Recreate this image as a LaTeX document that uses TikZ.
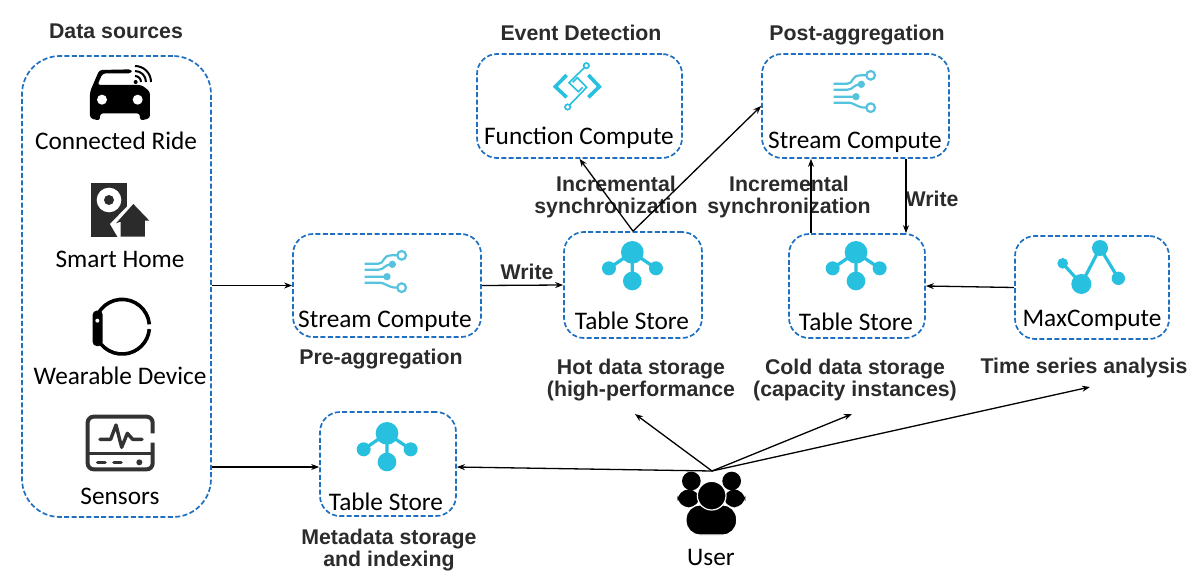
\documentclass[tikz,border=0pt]{standalone}
\usepackage{fontspec}
\setmainfont{Carlito}
\newfontfamily\arialfont{Liberation Sans}
\usetikzlibrary{arrows.meta,calc}
\definecolor{boxblue}{HTML}{1F70C1}
\definecolor{iconcyan}{HTML}{27C0DF}
\definecolor{streamcyan}{HTML}{55C3DE}
\definecolor{headtext}{HTML}{2B2B2B}
\tikzset{
  dbox/.style={draw=boxblue,line width=1.7pt,dash pattern=on 5pt off 2.4pt,rounded corners=20pt,fill=none,inner sep=0pt},
  svc/.style={font=\fontsize{25.3}{27}\selectfont,text=black,inner sep=0pt,text height=16.5pt,text depth=0pt},
  headtwo/.style={font=\arialfont\bfseries\fontsize{21.3}{22}\selectfont,text=headtext,inner sep=0pt,align=center},
  head/.style={headtwo,text height=15pt,text depth=0pt},
  conn/.style={line width=1.3pt,draw=black,-{Stealth[length=8pt,width=6pt]}},
  pics/tablestore/.style={code={
    \begin{scope}[scale=1/3]
      \draw[iconcyan,line width=3.3pt] (0,-38)--(-70,10) (0,-38)--(71,10) (0,-38)--(0,48);
      \fill[iconcyan] (0,-38) circle (34) (-70,10) circle (21) (71,10) circle (21) (0,48) circle (28);
    \end{scope}}},
  pics/streamicon/.style={code={
    \begin{scope}[scale=1/3]
      \draw[streamcyan,line width=2.2pt]
        (-61,-22)--(-20,-22) .. controls (0,-22) and (-10,-47) .. (20,-47)--(37,-47)
        (-61,-4)--(-20,-4) .. controls (0,-4) and (-5,-20) .. (22,-20)
        (-61,17)--(6,17)
        (-61,35)--(-20,35) .. controls (5,35) and (5,50) .. (37,50);
      \fill[streamcyan] (22,-20) circle (11) (6,17) circle (11);
      \draw[streamcyan,line width=2.2pt] (50,-47) circle (13) (50,50) circle (13);
    \end{scope}}},
}
\begin{document}
\begin{tikzpicture}[x=1pt,y=-1pt]
\useasboundingbox (0,0) rectangle (1200,586);
% boxes
\node[dbox,rounded corners=38pt,minimum width=189pt,minimum height=461pt] (src) at (116.5,286.5) {};
\node[dbox,minimum width=188pt,minimum height=103pt] (sc1) at (387,285.5) {};
\node[dbox,minimum width=138pt,minimum height=106pt] (hot) at (633,285) {};
\node[dbox,minimum width=136pt,minimum height=104pt] (cold) at (857,286) {};
\node[dbox,minimum width=154pt,minimum height=103pt] (maxc) at (1092,287.5) {};
\node[dbox,minimum width=205pt,minimum height=104pt] (fc) at (579.5,106) {};
\node[dbox,minimum width=187pt,minimum height=104pt] (post) at (855.5,106) {};
\node[dbox,minimum width=136pt,minimum height=104pt] (meta) at (388,464) {};
% texts
\node[head] (tsrc) at (116,31.5) {Data sources};
\node[svc] (t1) at (116,141.5) {Connected Ride};
\node[svc] (t2) at (120,259.5) {Smart Home};
\node[svc] (t3) at (120,376) {Wearable Device};
\node[svc] (t4) at (120,496) {Sensors};
\node[svc] (t5) at (385,319.5) {Stream Compute};
\node[head] (t6) at (381,357) {Pre-aggregation};
\node[head] (t7) at (527,272) {Write};
\node[svc] (t8) at (632,321) {Table Store};
\node[headtwo] (t9) at (641,380) {Hot data storage\\(high-performance};
\node[headtwo] (t10) at (855,380) {Cold data storage\\(capacity instances)};
\node[svc] (t11) at (856,322) {Table Store};
\node[svc] (t12) at (1092,318) {MaxCompute};
\node[head] (t13) at (1084,366) {Time series analysis};
\node[headtwo] (t14) at (616,196.5) {Incremental\\synchronization};
\node[headtwo] (t15) at (789,196.5) {Incremental\\synchronization};
\node[head] (t16) at (932,199) {Write};
\node[head] (t17) at (581,33.5) {Event Detection};
\node[head] (t18) at (857,33.5) {Post-aggregation};
\node[svc] (t19) at (579,136.5) {Function Compute};
\node[svc] (t20) at (855,140) {Stream Compute};
\node[headtwo] (t21) at (389,550) {Metadata storage\\and indexing};
\node[svc] (t22) at (386,502) {Table Store};
\node[svc] (t23) at (711,557) {User};
% service icons
\pic at (632.3,265) {tablestore};
\pic at (856,265) {tablestore};
\pic at (387,446) {tablestore};
\pic at (385,271) {streamicon};
\pic at (854,91) {streamicon};
% max compute
\begin{scope}[shift={(1000,220)},scale=1/3]
  \draw[iconcyan,line width=3.2pt] (188,130)--(244,192)--(300,84)--(355,175);
  \fill[iconcyan] (244,192) circle (30) (300,84) circle (24) (188,130) circle (16) (355,175) circle (20);
\end{scope}
% function compute
\begin{scope}[shift={(470,40)},scale=1/3]
  \draw[iconcyan,line width=3.6pt] (290,105)--(256,140)--(290,172) (355,105)--(388,140)--(355,172);
  \draw[iconcyan,line width=1.6pt] (343,83)--(297,128)--(325,155)--(338,142)
     (299,195)--(350,142)--(322,113)--(308,127);
  \draw[iconcyan,line width=1.7pt] (349,77) circle (8) (293,201) circle (8);
\end{scope}
% car
\begin{scope}[shift={(20,50)},scale=1/3]
  \fill[black,rounded corners=3pt] (210,205)--(210,125)--(238,60)--(335,58)--(335,70)--(248,70)--(232,105)--(365,105)--(390,125)--(390,205)--(360,212)--(360,190)--(240,190)--(240,212)--cycle;
  \fill[white] (246,149) circle (15) (353,149) circle (15);
  \fill[black] (347,96) circle (6);
  \draw[black,line width=2pt] (345,78) arc (-90:0:18) (345,63) arc (-90:0:33) (345,48) arc (-90:0:48);
\end{scope}
% smart home
\begin{scope}[shift={(20,50)},scale=1/3]
  \fill[black!83] (214,400) rectangle (320,560);
  \fill[white] (267,450) circle (37);
  \fill[black!83] (267,450) circle (15);
  \fill[white] (340,450)--(400,518)--(385,565)--(295,565)--(270,522)--cycle;
  \fill[black!83] (340,462)--(388,512)--(375,512)--(375,560)--(302,560)--(302,515)--(288,520)--cycle;
\end{scope}
% watch
\begin{scope}[shift={(20,290)},scale=1/3]
  \draw[black,line width=3.6pt] (388,103) arc (-5:-355:82);
  \fill[black,rounded corners=4pt] (218,62) rectangle (248,168);
  \fill[white] (232,92) circle (6);
\end{scope}
% sensors
\begin{scope}[shift={(20,290)},scale=1/3]
  \draw[black!80,line width=4pt,rounded corners=6pt] (398,430)--(398,380)--(203,380)--(203,538)--(398,538)--(398,458);
  \draw[black!80,line width=3.4pt] (203,490)--(398,490);
  \draw[black!80,line width=3.4pt,line join=round,line cap=round] (240,448)--(272,448)--(288,405)--(305,472)--(322,430)--(338,448)--(366,448);
  \draw[black!80,line width=3.6pt,line cap=round] (233,517)--(255,517) (282,517)--(303,517);
  \fill[black!80] (358,517) circle (9);
\end{scope}
% user
\begin{scope}[shift={(620,400)},scale=1/3]
  \fill[black] (214,243) circle (28) (335,243) circle (28);
  \fill[black,rounded corners=12pt] (172,322)--(172,268)--(240,268)--(240,322)--cycle;
  \fill[black,rounded corners=12pt] (310,322)--(310,268)--(376,268)--(376,322)--cycle;
  \fill[black,rounded corners=14pt,draw=white,line width=1.2pt] (198,405)--(198,315)--(350,315)--(350,405)--cycle;
  \fill[black,draw=white,line width=1.2pt] (275,287) circle (43);
\end{scope}
% connectors
\coordinate (lvlA) at (0,467);
\coordinate (upx) at (811,200);
\coordinate (dnx) at (906,200);
\coordinate (user) at (712,471);
\coordinate (hotend) at (635,414);
\coordinate (coldend) at (852,414);
\coordinate (tsend) at (1090,387);
\draw[conn] (src.east |- sc1.west) -- (sc1.west);
\draw[conn] (sc1.east) -- (hot.west);
\draw[conn] (maxc.west) -- (cold.east);
\draw[conn] (src.east |- lvlA) -- (meta.west |- lvlA);
\draw[conn] (upx |- cold.north) -- (upx |- post.south);
\draw[conn] (dnx |- post.south) -- (dnx |- cold.north);
\draw[conn] (hot.north) -- (fc.south);
\draw[conn] (hot.north) -- (post.west);
\draw[conn] (user) -- (meta.east |- lvlA);
\draw[conn] (user) -- (hotend);
\draw[conn] (user) -- (coldend);
\draw[conn] (user) -- (tsend);
\end{tikzpicture}
\end{document}
